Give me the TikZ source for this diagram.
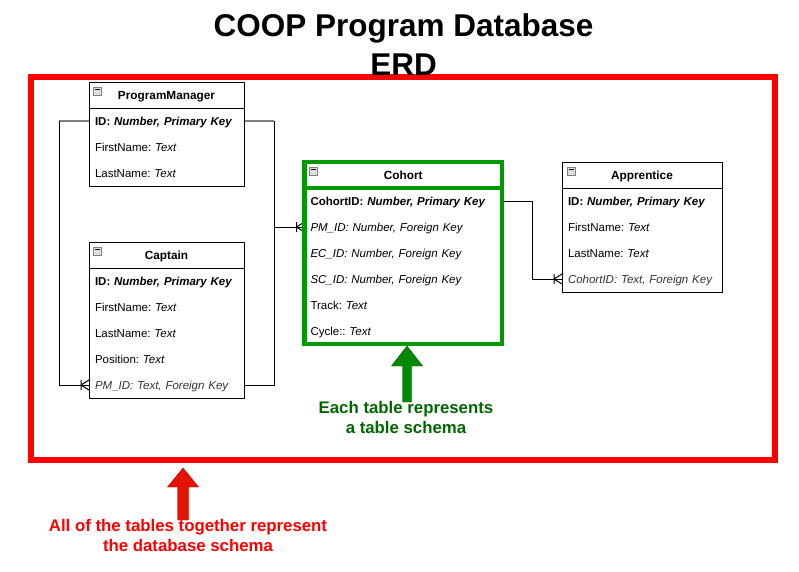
\documentclass[tikz,border=0pt]{standalone}
\usepackage{fontspec}
\setmainfont{Liberation Sans}
\usetikzlibrary{fit,backgrounds}

\definecolor{keygreen}{HTML}{009900}
\definecolor{arrowgreen}{HTML}{008A00}
\definecolor{arrowgreenline}{HTML}{005700}
\definecolor{notegreen}{HTML}{006600}
\definecolor{arrowred}{HTML}{E51400}
\definecolor{arrowredline}{HTML}{B20000}
\definecolor{fkgray}{HTML}{333333}

\frenchspacing
\newcommand{\rowfont}{\fontsize{11.5}{14}\selectfont\frenchspacing}
\newcommand{\headfont}{\fontsize{11.8}{14}\selectfont\bfseries}
\newcommand{\pk}[1]{\textbf{#1: \textit{Number, Primary Key}}}
\newcommand{\fk}[2]{\textit{#1: #2, Foreign Key}}
\newcommand{\attr}[1]{#1: \textit{Text}}
% crow's foot (one or many) entering a row from the left
\newcommand{\crowsfoot}[1]{%
  \draw[relline] ([xshift=-8pt]#1) -- ([yshift=5pt]#1)
                 ([xshift=-8pt]#1) -- ([yshift=-5pt]#1)
                 ([xshift=-8pt,yshift=5pt]#1) -- ([xshift=-8pt,yshift=-5pt]#1);}

\tikzset{
  tablehead/.style={draw, minimum width=#1, minimum height=26pt, inner sep=0pt, outer sep=0pt,
    font=\headfont, text height=8.6pt, text depth=0pt, anchor=north west},
  tablerow/.style={text width=#1, minimum height=26pt, inner xsep=6pt, inner ysep=0pt, outer sep=0pt,
    align=left, font=\rowfont, text height=8.3pt, text depth=0pt, anchor=north west},
  tablebox/.style={draw, inner sep=0pt, fit=#1},
  toggle/.style={draw=gray, fill=gray!25, minimum size=8pt, inner sep=0pt},
  relline/.style={draw=black, line width=1pt},
  fadeline/.style={draw=gray, line width=1.5pt},
  notetext/.style={align=center, inner sep=0pt, anchor=north,
    font=\fontsize{16.8}{20}\selectfont\bfseries}
}

\begin{document}
\begin{tikzpicture}[x=1pt, y=-1pt]
  \useasboundingbox (0,0) rectangle (799,571);

  % database schema frame
  \draw[red, line width=6pt] (31,77) rectangle (775,460);

  \node[align=center, inner sep=0pt, anchor=north, font=\fontsize{31.5}{38.5}\selectfont\bfseries]
    (title) at (403.5,13.5) {COOP Program Database\\ERD};

  % ProgramManager
  \node[tablehead=155pt] (pm) at (89,82) {ProgramManager};
  \foreach \n/\t [count=\i from 0] in {id/{\pk{ID}}, fn/{\attr{FirstName}}, ln/{\attr{LastName}}}
    \node[tablerow=143pt] (pm-\n) at (89,108+26*\i) {\mbox{\t}};
  \node[tablebox={(pm-id)(pm-ln)}] (pm-box) {};
  \node[toggle] (pm-tog) at ([xshift=8pt,yshift=-9pt]pm.north west) {\rule[2.6pt]{5pt}{0.8pt}};

  % Captain
  \node[tablehead=155pt] (cap) at (89,242) {Captain};
  \foreach \n/\t [count=\i from 0] in {id/{\pk{ID}}, fn/{\attr{FirstName}}, ln/{\attr{LastName}},
                                       pos/{\attr{Position}}, pm/{\color{fkgray}\fk{PM\_ID}{Text}}}
    \node[tablerow=143pt] (cap-\n) at (89,268+26*\i) {\mbox{\t}};
  \node[tablebox={(cap-id)(cap-pm)}] (cap-box) {};
  \node[toggle] (cap-tog) at ([xshift=8pt,yshift=-9pt]cap.north west) {\rule[2.6pt]{5pt}{0.8pt}};

  % Cohort
  \node[tablehead=197.5pt, draw=keygreen, line width=4.5pt] (co) at (304.5,162) {Cohort};
  \foreach \n/\t [count=\i from 0] in {id/{\pk{CohortID}}, pm/{\fk{PM\_ID}{Number}},
                                       ec/{\fk{EC\_ID}{Number}}, sc/{\fk{SC\_ID}{Number}},
                                       tr/{\attr{Track}}, cy/{\attr{Cycle:}}}
    \node[tablerow=185.5pt] (co-\n) at (304.5,188+26*\i) {\mbox{\t}};
  \node[tablebox={(co-id)(co-cy)}, draw=keygreen, line width=4.5pt] (co-box) {};
  \node[toggle] (co-tog) at ([xshift=8.5pt,yshift=-9pt]co.north west) {\rule[2.6pt]{5pt}{0.8pt}};

  % Apprentice
  \node[tablehead=160pt] (ap) at (562,162) {Apprentice};
  \foreach \n/\t [count=\i from 0] in {id/{\pk{ID}}, fn/{\attr{FirstName}}, ln/{\attr{LastName}},
                                       co/{\color{fkgray}\fk{CohortID}{Text}}}
    \node[tablerow=148pt] (ap-\n) at (562,188+26*\i) {\mbox{\t}};
  \node[tablebox={(ap-id)(ap-co)}] (ap-box) {};
  \node[toggle] (ap-tog) at ([xshift=9pt,yshift=-9pt]ap.north west) {\rule[2.6pt]{5pt}{0.8pt}};

  % relationships
  \begin{scope}[on background layer]
    \coordinate (pmL) at ([xshift=-30pt]pm-id.west);
    \coordinate (pmR) at ([xshift=30pt]pm-id.east);
    \coordinate (coR) at ([xshift=30pt]co-id.east);
    \draw[fadeline] (pm-id.west) -- (pmL);
    \draw[relline] (pmL) |- (cap-pm.west);
    \crowsfoot{cap-pm.west}
    \draw[fadeline] (pm-id.east) -- (pmR);
    \draw[relline] (pmR) |- (co-pm.west);
    \draw[relline] (cap-pm.east) -| (pmR);
    \crowsfoot{co-pm.west}
    \draw[relline] (co-id.east) -- (coR) |- (ap-co.west);
    \crowsfoot{ap-co.west}
  \end{scope}

  % notes
  \draw[fill=arrowgreen, draw=arrowgreenline] (407,346) -- (422.5,366) -- (411.5,366) -- (411.5,402)
    -- (402.5,402) -- (402.5,366) -- (391.5,366) -- cycle;
  \node[notetext, text=notegreen] (table-note) at (406,400.7) {Each table represents\\a table schema};

  \draw[fill=arrowred, draw=arrowredline] (183,468) -- (198.5,487) -- (188.5,487) -- (188.5,520)
    -- (177.5,520) -- (177.5,487) -- (167.5,487) -- cycle;
  \node[notetext, text=red] (db-note) at (188,518.7) {All of the tables together represent\\the database schema};
\end{tikzpicture}
\end{document}
